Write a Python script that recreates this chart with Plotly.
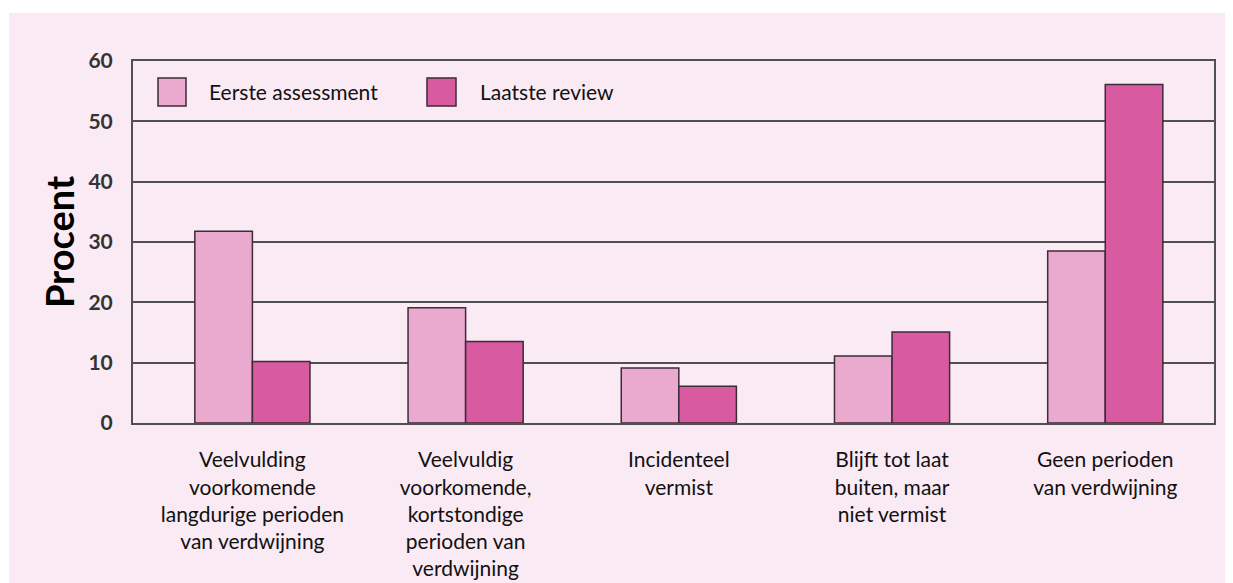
import plotly.graph_objects as go

categories = [
    "Veelvulding<br>voorkomende<br>langdurige perioden<br>van verdwijning",
    "Veelvuldig<br>voorkomende,<br>kortstondige<br>perioden van<br>verdwijning",
    "Incidenteel<br>vermist",
    "Blijft tot laat<br>buiten, maar<br>niet vermist",
    "Geen perioden<br>van verdwijning",
]
series_names = ["Eerste assessment", "Laatste review"]
eerste = [31.8, 19.1, 9.1, 11.1, 28.5]
laatste = [10.2, 13.5, 6.1, 15.1, 56.1]
y_ticks = [0, 10, 20, 30, 40, 50, 60]

LIGHT = "#eaa9cf"
DARK = "#d85aa0"
BG = "#faeaf4"
GRID = "#505050"
EDGE = "#3d2b37"
FONT = "Lato"

fig = go.Figure()
for name, vals, col in [(series_names[0], eerste, LIGHT), (series_names[1], laatste, DARK)]:
    fig.add_trace(go.Bar(
        x=categories, y=vals, name=name,
        marker=dict(color=col, line=dict(color=EDGE, width=1.5)),
        showlegend=False,
    ))

# page body has an 8px margin; figure pixel coords = screen coords - 8
OFF = 8
W, H = 1233 - OFF, 583 - OFF
L, R, T, B = 133 - OFF, 19, 61 - OFF, 160
pw, ph = W - L - R, H - T - B

def px(x):
    return (x - OFF - L) / pw

def py(y):
    return (H - B - (y - OFF)) / ph

shapes = [
    dict(type="rect", xref="paper", yref="paper", layer="below",
         x0=px(9), x1=px(1233 + 10), y0=py(13), y1=py(583 + 10),
         fillcolor=BG, line=dict(width=0)),
    dict(type="rect", xref="paper", yref="paper",
         x0=px(158), x1=px(186), y0=py(106), y1=py(78),
         fillcolor=LIGHT, line=dict(color=EDGE, width=1.5)),
    dict(type="rect", xref="paper", yref="paper",
         x0=px(427), x1=px(456), y0=py(106), y1=py(78),
         fillcolor=DARK, line=dict(color=EDGE, width=1.5)),
]
annotations = [
    dict(xref="paper", yref="paper", x=px(207), y=py(92), text=series_names[0],
         showarrow=False, xanchor="left", yanchor="middle",
         font=dict(family=FONT, size=21, color="#111")),
    dict(xref="paper", yref="paper", x=px(478), y=py(92), text=series_names[1],
         showarrow=False, xanchor="left", yanchor="middle",
         font=dict(family=FONT, size=21, color="#111")),
]

fig.update_layout(
    width=W, height=H,
    margin=dict(l=L, r=R, t=T, b=B, autoexpand=False),
    paper_bgcolor="white",
    plot_bgcolor=BG,
    barmode="group",
    bargap=0.46,
    bargroupgap=0,
    shapes=shapes,
    annotations=annotations,
    font=dict(family=FONT, color="#111"),
)
fig.update_yaxes(
    range=[0, 60], tickvals=y_ticks, showgrid=True, gridcolor=GRID, gridwidth=2,
    showline=True, linecolor=GRID, linewidth=2, mirror=True, zeroline=False,
    ticks="", ticklabelstandoff=14,
    tickfont=dict(family=FONT, size=21, color="#333", weight="bold"),
    title=dict(text="<b>Procent</b>", font=dict(family=FONT, size=38, color="#000"), standoff=2),
    fixedrange=True,
)
fig.update_xaxes(
    range=[-0.56, 4.51],
    showline=True, linecolor=GRID, linewidth=2, mirror=True, showgrid=False,
    ticks="", ticklabelstandoff=17, tickangle=0,
    tickfont=dict(family=FONT, size=21, color="#111"),
    fixedrange=True,
)

fig.write_html("out.html")
